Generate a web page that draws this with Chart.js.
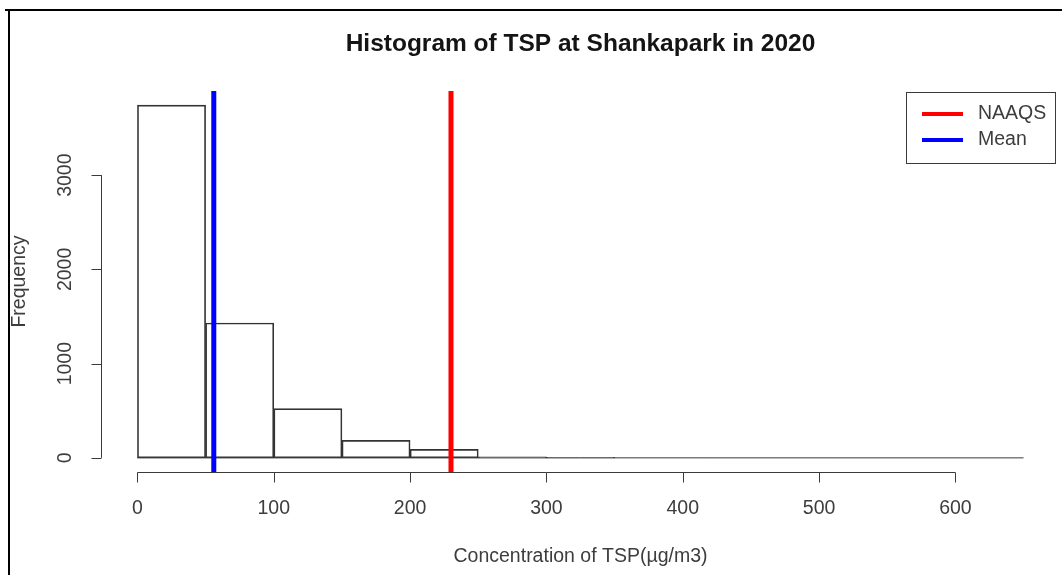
<!DOCTYPE html>
<html>
<head>
<meta charset="utf-8">
<title>Histogram of TSP at Shankapark in 2020</title>
<script src="https://cdn.jsdelivr.net/npm/chart.js@4.4.1/dist/chart.umd.min.js"></script>
<style>
    html, body { margin: 0; padding: 0; background: #fff; }
    #wrap { position: relative; width: 1062px; height: 575px; }
</style>
</head>
<body>
<div id="wrap"><canvas id="histChart"></canvas></div>
<script>
// histogram bins (left edge of each 50-wide bin) and counts
const binStarts = [0, 50, 100, 150, 200, 250, 300];
const binWidth = 50;
const counts = [3743, 1431, 522, 186, 90, 12, 5];

const meanTSP = 56;
const naaqsTSP = 230;

const xTicks = [0, 100, 200, 300, 400, 500, 600];
const yTicks = [0, 1000, 2000, 3000];
const xRange = [-26, 676];     // xlim 0..650 with R's 4% padding
const yRange = [-150, 3893];   // ylim 0..max with R's 4% padding
const baselineEnd = 650;

const TITLE = 'Histogram of TSP at Shankapark in 2020';
const X_LABEL = 'Concentration of TSP(\u00b5g/m3)';
const Y_LABEL = 'Frequency';
const legendItems = [
    { label: 'NAAQS', color: '#ff0000' },
    { label: 'Mean', color: '#0000ff' }
];

const FONT = '"Liberation Sans", Arial, sans-serif';

// R-style axes, title, labels, legend and outer frame
const rStylePlugin = {
    id: 'rStyle',
    beforeDraw(chart) {
        const ctx = chart.ctx;
        ctx.save();
        ctx.fillStyle = '#fff';
        ctx.fillRect(0, 0, chart.width, chart.height);
        // outer frame (top + left edges of the screenshot)
        ctx.strokeStyle = '#000';
        ctx.lineWidth = 2;
        ctx.beginPath();
        ctx.moveTo(5, 10);
        ctx.lineTo(chart.width, 10);
        ctx.moveTo(9, 10);
        ctx.lineTo(9, chart.height);
        ctx.stroke();
        ctx.restore();
    },
    afterDraw(chart) {
        const ctx = chart.ctx;
        const xs = chart.scales.x;
        const ys = chart.scales.y;
        const area = chart.chartArea;
        const midX = (area.left + area.right) / 2;
        const midY = (area.top + area.bottom) / 2;

        ctx.save();
        ctx.strokeStyle = '#3a3a3a';
        ctx.lineWidth = 1;

        // x axis
        const axY = Math.round(area.bottom) + 0.5;
        ctx.beginPath();
        ctx.moveTo(xs.getPixelForValue(xTicks[0]), axY);
        ctx.lineTo(xs.getPixelForValue(xTicks[xTicks.length - 1]), axY);
        xTicks.forEach(t => {
            const px = Math.round(xs.getPixelForValue(t)) + 0.5;
            ctx.moveTo(px, axY);
            ctx.lineTo(px, axY + 10);
        });
        ctx.stroke();

        ctx.fillStyle = '#3d3d3d';
        ctx.font = '19.5px ' + FONT;
        ctx.textAlign = 'center';
        ctx.textBaseline = 'middle';
        xTicks.forEach(t => {
            ctx.fillText(String(t), xs.getPixelForValue(t), 509);
        });

        // y axis
        const axX = Math.round(area.left) - 0.5;
        ctx.beginPath();
        ctx.moveTo(axX, ys.getPixelForValue(yTicks[0]));
        ctx.lineTo(axX, ys.getPixelForValue(yTicks[yTicks.length - 1]));
        yTicks.forEach(t => {
            const py = Math.round(ys.getPixelForValue(t)) + 0.5;
            ctx.moveTo(axX, py);
            ctx.lineTo(axX - 10, py);
        });
        ctx.stroke();

        yTicks.forEach(t => {
            ctx.save();
            ctx.translate(66, ys.getPixelForValue(t));
            ctx.rotate(-Math.PI / 2);
            ctx.fillText(String(t), 0, 0);
            ctx.restore();
        });

        // axis titles
        ctx.fillText(X_LABEL, midX, 557);
        ctx.save();
        ctx.translate(20, midY);
        ctx.rotate(-Math.PI / 2);
        ctx.fillText(Y_LABEL, 0, 0);
        ctx.restore();

        // main title
        ctx.fillStyle = '#141414';
        ctx.font = 'bold 24.5px ' + FONT;
        ctx.fillText(TITLE, midX, 44);

        // legend box, top right
        const boxL = 906.5, boxT = 92.5, boxW = 149, boxH = 71;
        ctx.fillStyle = '#fff';
        ctx.fillRect(boxL, boxT, boxW, boxH);
        ctx.strokeStyle = '#3a3a3a';
        ctx.lineWidth = 1;
        ctx.strokeRect(boxL, boxT, boxW, boxH);
        ctx.font = '19.5px ' + FONT;
        ctx.textAlign = 'left';
        legendItems.forEach((item, i) => {
            const y = 114 + i * 26;
            ctx.strokeStyle = item.color;
            ctx.lineWidth = 4;
            ctx.beginPath();
            ctx.moveTo(922, y);
            ctx.lineTo(963, y);
            ctx.stroke();
            ctx.fillStyle = '#3d3d3d';
            ctx.fillText(item.label, 978, y);
        });

        ctx.restore();
    }
};

const ctx = document.getElementById('histChart').getContext('2d');
const histChart = new Chart(ctx, {
    data: {
        datasets: [
            {
                type: 'line',
                label: 'NAAQS',
                data: [{ x: naaqsTSP, y: yRange[0] }, { x: naaqsTSP, y: yRange[1] }],
                borderColor: '#ff0000',
                borderWidth: 5,
                pointRadius: 0,
                order: 1
            },
            {
                type: 'line',
                label: 'Mean',
                data: [{ x: meanTSP, y: yRange[0] }, { x: meanTSP, y: yRange[1] }],
                borderColor: '#0000ff',
                borderWidth: 5,
                pointRadius: 0,
                order: 2
            },
            {
                type: 'line',
                label: 'baseline',
                data: [{ x: 0, y: 0 }, { x: baselineEnd, y: 0 }],
                borderColor: '#3a3a3a',
                borderWidth: 1,
                pointRadius: 0,
                order: 3
            },
            {
                type: 'bar',
                label: 'Frequency',
                data: binStarts.map((b, i) => ({ x: b + binWidth / 2, y: counts[i] })),
                backgroundColor: 'rgba(255,255,255,0)',
                borderColor: '#333',
                borderWidth: 1,
                borderSkipped: false,
                barPercentage: 1.0,
                categoryPercentage: 1.0,
                order: 4
            }
        ]
    },
    options: {
        responsive: true,
        maintainAspectRatio: false,
        animation: false,
        layout: { padding: { left: 102, right: 3, top: 91, bottom: 103 } },
        scales: {
            x: {
                type: 'linear', min: xRange[0], max: xRange[1], display: false,
                offset: false, grid: { offset: false },
                ticks: { stepSize: 100, includeBounds: false }
            },
            y: { type: 'linear', min: yRange[0], max: yRange[1], display: false }
        },
        plugins: {
            legend: { display: false },
            title: { display: false },
            tooltip: { enabled: false }
        }
    },
    plugins: [rStylePlugin]
});
</script>
</body>
</html>
